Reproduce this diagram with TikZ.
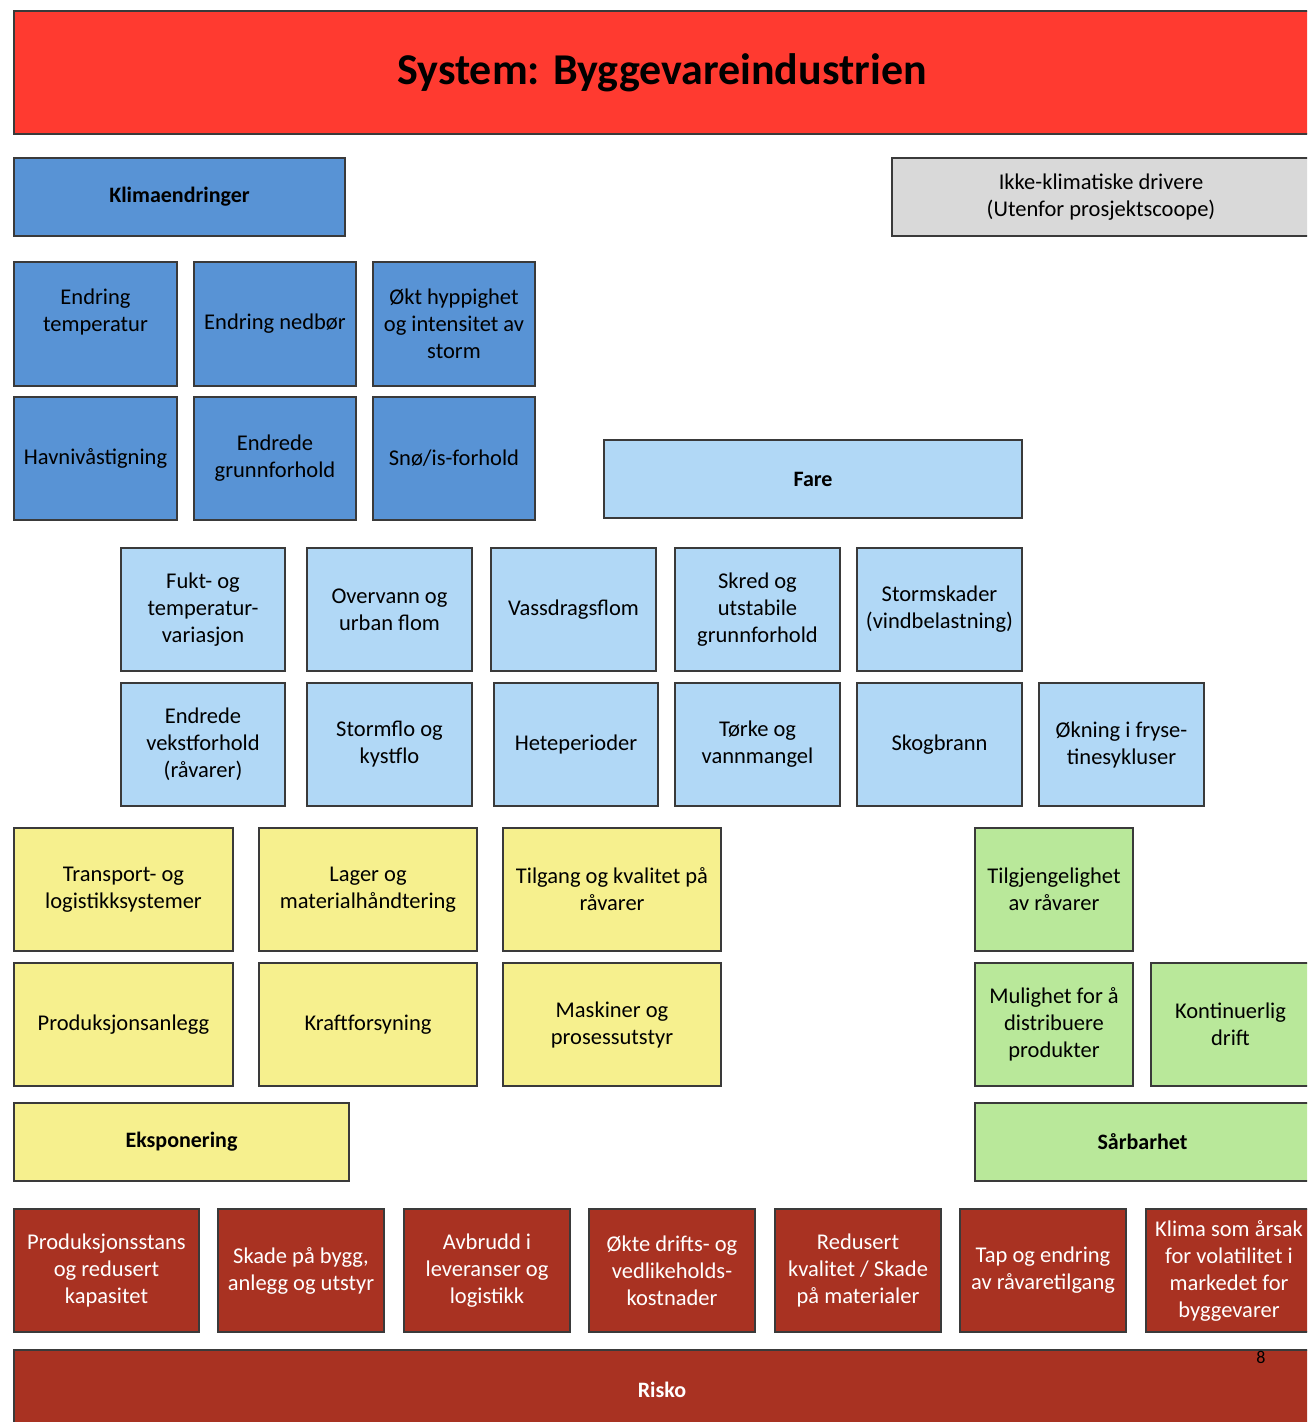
\documentclass[tikz,border=0pt]{standalone}
\usepackage{fontspec}
\setmainfont{Carlito}
\definecolor{sysred}{HTML}{FF3A30}
\definecolor{klimablue}{HTML}{5893D5}
\definecolor{fareblue}{HTML}{B1D8F6}
\definecolor{ikkegray}{HTML}{D9D9D9}
\definecolor{eksyellow}{HTML}{F6F08E}
\definecolor{sarbgreen}{HTML}{B9E89A}
\definecolor{riskred}{HTML}{A93222}
\definecolor{edge}{HTML}{3A3A3A}
\begin{document}
\begin{tikzpicture}[x=1pt,y=-1pt,
    box/.style={draw=edge, line width=1.4pt, anchor=north west, inner sep=0pt, outer sep=0pt,
        align=center, font=\fontsize{22.5}{27}\selectfont, minimum height=123pt},
    head/.style={box, minimum height=78pt, font=\fontsize{22}{27}\selectfont\bfseries},
    klima/.style={box, fill=klimablue},
    fare/.style={box, fill=fareblue},
    eks/.style={box, fill=eksyellow},
    sarb/.style={box, fill=sarbgreen},
    risk/.style={box, fill=riskred, text=white}]
\clip (0,0) rectangle (1307,1422);
\useasboundingbox (0,0) rectangle (1307,1422);
\fill[white] (0,0) rectangle (1307,1422);

% system
\node[box, fill=sysred, minimum width=1296pt, font=\fontsize{44}{50}\selectfont\bfseries] (system) at (14,11) {System: Byggevareindustrien};

% klimaendringer
\node[head, fill=klimablue, minimum width=331pt] (klimahead) at (14,158) {Klimaendringer};
\node[box, fill=ikkegray, minimum height=78pt, minimum width=418pt] (ikke) at (892,158) {Ikke-klimatiske drivere\\(Utenfor prosjektscoope)};
\node[klima, minimum width=163pt, minimum height=124pt] (temp) at (14,262) {Endring\\temperatur\\\mbox{}};
\node[klima, minimum width=162pt, minimum height=124pt] (nedbor) at (194,262) {Endring nedbør};
\node[klima, minimum width=162pt, minimum height=124pt] (storm) at (373,262) {Økt hyppighet\\og intensitet av\\storm};
\node[klima, minimum width=163pt] (havniva) at (14,397) {Havnivåstigning};
\node[klima, minimum width=162pt] (grunn) at (194,397) {Endrede\\grunnforhold};
\node[klima, minimum width=162pt] (sno) at (373,397) {Snø/is-forhold};

% fare
\node[head, fill=fareblue, minimum width=418pt] (farehead) at (604,440) {Fare};
\node[fare, minimum width=164pt] (fukt) at (121,548) {Fukt- og\\temperatur-\\variasjon};
\node[fare, minimum width=165pt] (overvann) at (307,548) {Overvann og\\urban flom};
\node[fare, minimum width=165pt] (vassdrag) at (491,548) {Vassdragsflom};
\node[fare, minimum width=165pt] (skred) at (675,548) {Skred og\\utstabile\\grunnforhold};
\node[fare, minimum width=165pt] (vind) at (857,548) {Stormskader\\(vindbelastning)};
\node[fare, minimum width=164pt] (vekst) at (121,683) {Endrede\\vekstforhold\\(råvarer)};
\node[fare, minimum width=165pt] (stormflo) at (307,683) {Stormflo og\\kystflo};
\node[fare, minimum width=164pt] (hete) at (494,683) {Heteperioder};
\node[fare, minimum width=165pt] (torke) at (675,683) {Tørke og\\vannmangel};
\node[fare, minimum width=165pt] (skogbrann) at (857,683) {Skogbrann};
\node[fare, minimum width=165pt] (fryse) at (1039,683) {Økning i fryse-\\tinesykluser};

% eksponering
\node[eks, minimum width=219pt] (transport) at (14,828) {Transport- og\\logistikksystemer};
\node[eks, minimum width=218pt] (lager) at (259,828) {Lager og\\materialhåndtering};
\node[eks, minimum width=218pt] (tilgang) at (503,828) {Tilgang og kvalitet på\\råvarer};
\node[eks, minimum width=219pt] (anlegg) at (14,963) {Produksjonsanlegg};
\node[eks, minimum width=218pt] (kraft) at (259,963) {Kraftforsyning};
\node[eks, minimum width=218pt] (maskiner) at (503,963) {Maskiner og\\prosessutstyr};
\node[head, fill=eksyellow, minimum width=335pt] (ekshead) at (14,1103) {Eksponering};

% sarbarhet
\node[sarb, minimum width=158pt] (tilgj) at (975,828) {Tilgjengelighet\\av råvarer};
\node[sarb, minimum width=158pt] (distr) at (975,963) {Mulighet for å\\distribuere\\produkter};
\node[sarb, minimum width=159pt] (drift) at (1151,963) {Kontinuerlig\\drift};
\node[head, fill=sarbgreen, minimum width=335pt] (sarbhead) at (975,1103) {Sårbarhet};

% risiko
\node[risk, minimum width=185pt] (stans) at (14,1209) {Produksjonsstans\\og redusert\\kapasitet};
\node[risk, minimum width=166pt] (skade) at (218,1209) {Skade på bygg,\\anlegg og utstyr};
\node[risk, minimum width=166pt] (avbrudd) at (404,1209) {Avbrudd i\\leveranser og\\logistikk};
\node[risk, minimum width=166pt] (kost) at (589,1209) {Økte drifts- og\\vedlikeholds-\\kostnader};
\node[risk, minimum width=166pt] (kvalitet) at (775,1209) {Redusert\\kvalitet / Skade\\på materialer};
\node[risk, minimum width=166pt] (tap) at (960,1209) {Tap og endring\\av råvaretilgang};
\node[risk, minimum width=166pt] (volatil) at (1146,1209) {Klima som årsak\\for volatilitet i\\markedet for\\byggevarer};
\node[head, fill=riskred, text=white, minimum width=1296pt, minimum height=80pt] (risko) at (14,1350) {Risko};
\node[font=\fontsize{18}{20}\selectfont, inner sep=0pt] (side) at (1261,1357) {8};
\end{tikzpicture}
\end{document}
